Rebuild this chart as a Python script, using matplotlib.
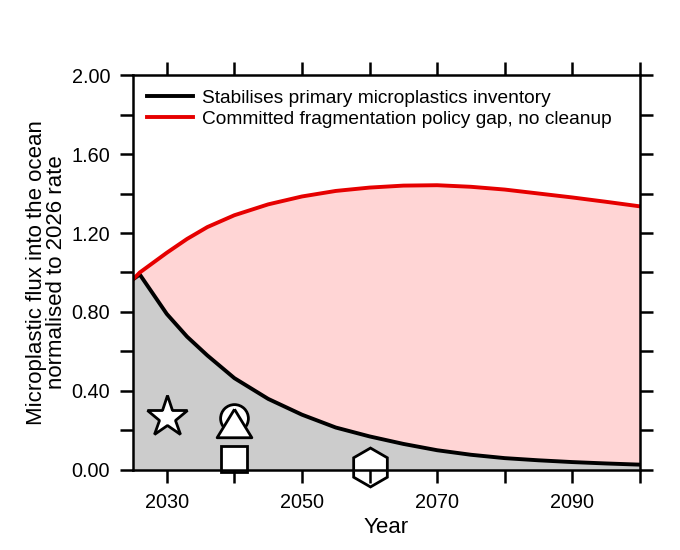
import numpy as np
import matplotlib
matplotlib.use("Agg")
import matplotlib.pyplot as plt

plt.rcParams['font.family'] = ['Liberation Sans', 'DejaVu Sans']

# values (normalised to the 2026 rate)
years = [2025, 2026, 2027, 2028, 2029, 2030, 2033, 2036, 2040, 2045, 2050, 2055,
         2060, 2065, 2070, 2075, 2080, 2085, 2090, 2095, 2100]
stabilises = [0.965, 0.99, 0.94, 0.89, 0.84, 0.79, 0.675, 0.58, 0.465, 0.36, 0.28,
              0.215, 0.17, 0.132, 0.10, 0.077, 0.06, 0.049, 0.040, 0.033, 0.027]
policy_gap = [0.965, 1.0, 1.025, 1.05, 1.075, 1.10, 1.17, 1.23, 1.29, 1.345, 1.385,
              1.413, 1.43, 1.44, 1.442, 1.434, 1.42, 1.40, 1.38, 1.358, 1.335]

# open symbols: (marker, year, value, size in points)
tri = [[0, 0.82], [-1, -0.82], [1, -0.82], [0, 0.82]]
symbols = [("*", 2030, 0.268, 31),
           ("o", 2040, 0.262, 20),
           (tri, 2040, 0.238, 25),
           ("s", 2040, 0.056, 19),
           ("h", 2060, 0.015, 28)]

fig = plt.figure(figsize=(6.8, 5.5), dpi=100)
ax = fig.add_axes([0.1956, 0.1455, 0.7454, 0.7181])

ax.fill_between(years, 0, stabilises, color="#cccccc", lw=0, zorder=1)
ax.fill_between(years, stabilises, policy_gap, color="#ffd5d5", lw=0, zorder=1)
ax.plot(years, stabilises, color="black", lw=2.8, zorder=3,
        label="Stabilises primary microplastics inventory")
ax.plot(years, policy_gap, color="#e60000", lw=2.8, zorder=3,
        label="Committed fragmentation policy gap, no cleanup")

for m, x, y, s in symbols:
    ax.plot(x, y, marker=m, ms=s, mfc="white", mec="black", mew=2.0,
            ls="none", clip_on=False, zorder=2.2)

ax.set_xlim(2025, 2100)
ax.set_ylim(0, 2.0)
ax.set_axisbelow(False)

ax.set_xticks(np.arange(2030, 2101, 10))
ax.set_xticklabels([str(t) if t % 20 == 10 else "" for t in range(2030, 2101, 10)])
yt = np.round(np.arange(0, 2.01, 0.2), 1)
ax.set_yticks(yt)
ax.set_yticklabels([f"{v:.2f}" if round(v * 10) % 4 == 0 else "" for v in yt])

ax.tick_params(direction="out", length=9.5, width=1.8, labelsize=14.3,
               top=True, right=True, pad=7)
ax.tick_params(axis="y", pad=7)
for sp in ax.spines.values():
    sp.set_linewidth(1.8)
    sp.set_zorder(3.5)

ax.set_xlabel("Year", fontsize=16, labelpad=4)
ax.set_ylabel("Microplastic flux into the ocean\nnormalised to 2026 rate",
              fontsize=16, labelpad=3, linespacing=0.95)

ax.legend(loc="upper left", frameon=False, fontsize=13.8, handlelength=2.4,
          handletextpad=0.45, borderaxespad=0.0, labelspacing=0.2,
          borderpad=0.75)

fig.savefig("out.png", dpi=100)
